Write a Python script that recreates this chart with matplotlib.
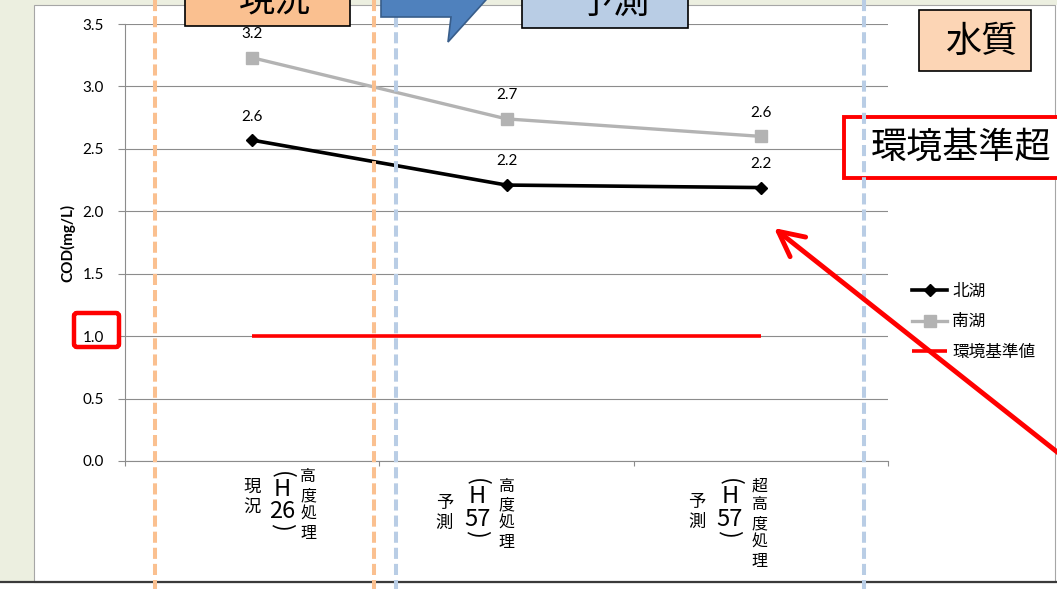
import matplotlib
matplotlib.use("Agg")
import matplotlib.pyplot as plt
from matplotlib.patches import Rectangle, Polygon, FancyArrowPatch, FancyBboxPatch
from matplotlib.lines import Line2D
from matplotlib.transforms import Affine2D
import numpy as np

plt.rcParams['font.family'] = ['Noto Sans CJK JP', 'DejaVu Sans']
plt.rcParams['lines.scale_dashes'] = False

# ---- data -------------------------------------------------------------
cat_period = ["現況", "予測", "予測"]
cat_year = ["26", "57", "57"]          # Heisei year, drawn as (H..)
cat_treatment = ["高度処理", "高度処理", "超高度処理"]
north_lake = [2.57, 2.21, 2.19]
south_lake = [3.23, 2.74, 2.60]
env_standard = [1.0, 1.0, 1.0]
series_names = ["北湖", "南湖", "環境基準値"]
y_ticks = [0.0, 0.5, 1.0, 1.5, 2.0, 2.5, 3.0, 3.5]
y_label = "COD(mg/L)"
phase_now = "現況"
phase_future = "予測"
topic = "水質"
callout = "環境基準超"

# ---- canvas -------------------------------------------------------------
W, H = 1057, 589
fig = plt.figure(figsize=(W / 100, H / 100), dpi=100)
fig.patch.set_facecolor('white')
# pixel coordinates measured from the top-left corner
pix = Affine2D().scale(1, -1).translate(0, H)


def fx(x):
    return x / W


def fy(y):
    return 1 - y / H


green = '#ECEFE0'
fig.add_artist(Rectangle((0, 0), 34, 583, transform=pix, fc=green, ec='none', zorder=-10))
fig.add_artist(Rectangle((0, 0), W, 5, transform=pix, fc=green, ec='none', zorder=-10))
fig.add_artist(Rectangle((34, 5), 1021, 577, transform=pix, fc='white', ec='#A6A6A6',
                         lw=0.8, zorder=-9))
fig.add_artist(Line2D([0, W], [582, 582], transform=pix, color='#3A3A3A', lw=1.6, zorder=-8))

# ---- chart ------------------------------------------------------------
ax = fig.add_axes([fx(125), fy(461), (888 - 125) / W, (461 - 24) / H])
ax.set_facecolor('none')
x = np.arange(len(cat_period))
grid_c = '#8C8C8C'

l_north, = ax.plot(x, north_lake, color='black', lw=2.6, marker='D', ms=6,
                   mfc='black', mec='black', zorder=4, label=series_names[0])
l_south, = ax.plot(x, south_lake, color='#B3B3B3', lw=2.4, marker='s', ms=9,
                   mfc='#B3B3B3', mec='#B3B3B3', zorder=3, label=series_names[1])
l_std, = ax.plot(x, env_standard, color='#FF0000', lw=2.6, zorder=2,
                 label=series_names[2], solid_capstyle='butt')

for xi, v in zip(x, north_lake):
    ax.annotate(f"{v:.1f}", (xi, v), xytext=(0, 17), textcoords='offset points',
                ha='center', va='center', fontsize=11, family='Lato')
for xi, v in zip(x, south_lake):
    ax.annotate(f"{v:.1f}", (xi, v), xytext=(0, 17), textcoords='offset points',
                ha='center', va='center', fontsize=11, family='Lato')

ax.set_xlim(-0.5, 2.5)
ax.set_ylim(0, 3.5)
ax.set_yticks(y_ticks)
ax.set_yticklabels([f"{t:.1f}" for t in y_ticks], family='Lato', fontsize=11)
ax.set_xticks([-0.5, 0.5, 1.5, 2.5])
ax.set_xticklabels([])
ax.yaxis.grid(True, color=grid_c, lw=0.8)
ax.set_axisbelow(True)
for s in ['top', 'right']:
    ax.spines[s].set_visible(False)
for s in ['left', 'bottom']:
    ax.spines[s].set_color(grid_c)
    ax.spines[s].set_linewidth(0.8)
ax.tick_params(axis='y', length=5, pad=10, color=grid_c, width=0.8)
ax.tick_params(axis='x', length=3.6, color=grid_c, width=0.8)

fig.text(68, 243, y_label, transform=pix, rotation=90, fontweight='bold', fontsize=11,
         family='Lato', ha='center', va='center')

ax.legend(handles=[l_north, l_south, l_std], loc='upper left',
          bbox_to_anchor=(fx(912), fy(283)), bbox_transform=fig.transFigure,
          frameon=False, fontsize=12, handlelength=2.1, handletextpad=0.3,
          labelspacing=0.8, borderpad=0, borderaxespad=0)

# ---- vertical category labels -------------------------------------------
cols_dx = [(0, 30, 56), (-62, -29, 0), (-64, -31, -1)]
cols_y0 = [(487, 475, 477), (503, 482, 486), (502, 482, 486)]
for i in range(len(cat_period)):
    cx = ax.transData.transform((i, 0))[0]
    dxp, dxy, dxt = cols_dx[i]
    yp, yy, yt = cols_y0[i]
    for k, ch in enumerate(cat_period[i]):
        fig.text(cx + dxp, yp + 19.5 * k, ch, transform=pix, fontsize=12.5,
                 ha='center', va='center')
    fig.text(cx + dxy, yy, "(", transform=pix, fontsize=17, rotation=-90,
             ha='center', va='center')
    fig.text(cx + dxy, yy + 14.5, "H", transform=pix, fontsize=17, ha='center', va='center')
    fig.text(cx + dxy, yy + 37, cat_year[i], transform=pix, fontsize=17,
             ha='center', va='center')
    fig.text(cx + dxy, yy + 52, ")", transform=pix, fontsize=17, rotation=-90,
             ha='center', va='center')
    for k, ch in enumerate(cat_treatment[i]):
        fig.text(cx + dxt, yt + 18.8 * k, ch, transform=pix, fontsize=11.5,
                 ha='center', va='center')

# ---- callout box behind the dashed guides -------------------------------
fig.add_artist(Rectangle((844, 117), 240, 61, transform=pix, fc='white', ec='#FF0000',
                         lw=2.8, zorder=1))
fig.text(871, 148, callout, transform=pix, fontsize=26, ha='left', va='center', zorder=1.1)

# ---- dashed period guides ---------------------------------------------
for gx, gc in [(155, '#FAC090'), (374, '#FAC090'), (396, '#B9CDE5'), (864, '#B9CDE5')]:
    fig.add_artist(Line2D([gx, gx], [0, H], transform=pix, color=gc, lw=2.9,
                          dashes=(8, 3.6), zorder=3))

# ---- phase banners ----------------------------------------------------
fig.add_artist(Rectangle((185, -30), 165, 56, transform=pix, fc='#FAC090', ec='black',
                         lw=1.2, zorder=5))
fig.text(275, 12, phase_now, transform=pix, fontsize=26, ha='center', va='baseline', zorder=5.1)
fig.add_artist(Rectangle((522, -30), 166, 58, transform=pix, fc='#B9CDE5', ec='black',
                         lw=1.2, zorder=5))
fig.text(613, 13, phase_future, transform=pix, fontsize=26, ha='center', va='baseline',
         zorder=5.1)
fig.add_artist(Polygon([(381, -60), (381, 17), (451, 17), (448, 42), (540, -60)],
                       closed=True, transform=pix, fc='#4F81BD', ec='#385D8A', lw=1.2,
                       zorder=5))

fig.add_artist(Rectangle((919, 10), 112, 61, transform=pix, fc='#FCD5B5', ec='black',
                         lw=1.2, zorder=5))
fig.text(982, 42, topic, transform=pix, fontsize=26, ha='center', va='center', zorder=5.1)

# ---- highlight of the standard value and pointer arrow -------------------
fig.add_artist(FancyBboxPatch((74, 313), 45, 34, boxstyle='round,pad=0,rounding_size=3',
                              transform=pix, fc='none', ec='#FF0000', lw=3.2, zorder=6))
fig.add_artist(FancyArrowPatch(posA=(1090, 478), posB=(774, 228), transform=pix,
                               arrowstyle='->,head_length=0.9,head_width=0.45',
                               mutation_scale=20, color='#FF0000', lw=3.5,
                               shrinkA=0, shrinkB=0, zorder=6))

fig.savefig('out.png', dpi=100, facecolor=fig.get_facecolor())
